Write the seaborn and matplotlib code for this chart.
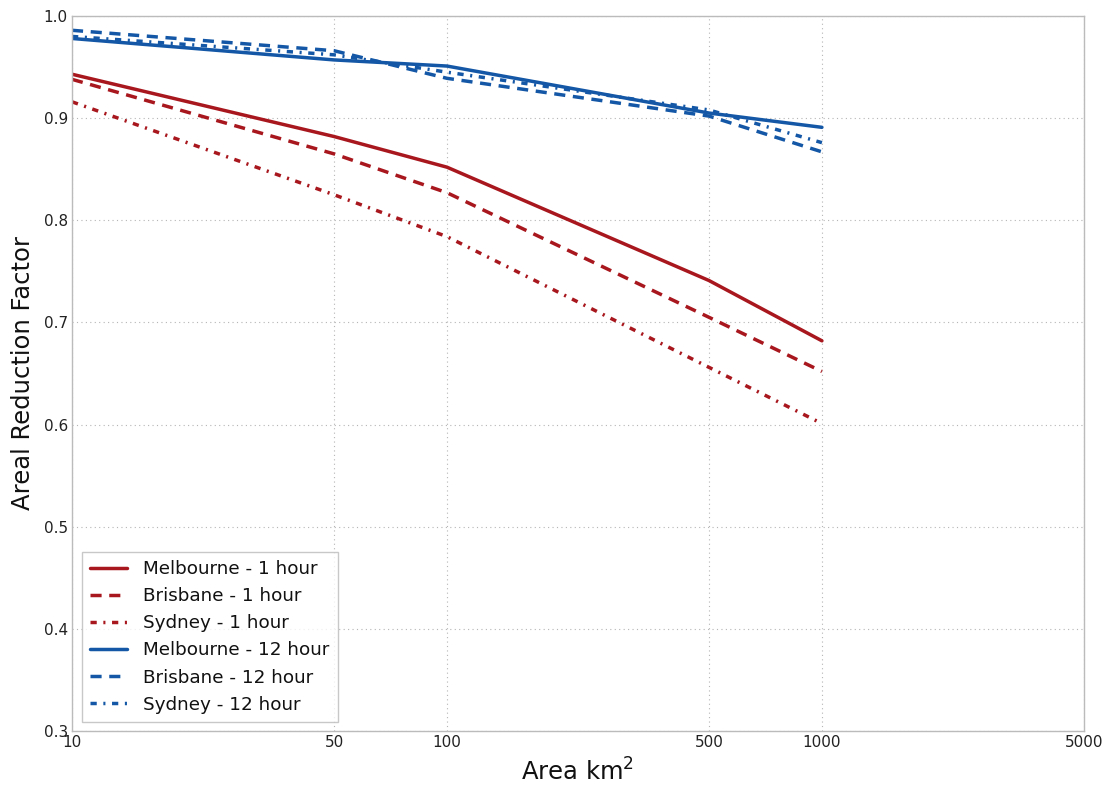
import matplotlib
matplotlib.use("Agg")
import matplotlib.pyplot as plt
import seaborn as sns
import pandas as pd
from matplotlib.ticker import FixedLocator, NullLocator, FixedFormatter

# Catchment areas (km^2)
areas = [10, 50, 100, 500, 1000]

# Areal reduction factors per city and storm duration
melbourne_1h = [0.943, 0.882, 0.852, 0.741, 0.682]
brisbane_1h = [0.938, 0.865, 0.827, 0.705, 0.652]
sydney_1h = [0.916, 0.825, 0.784, 0.656, 0.601]
melbourne_12h = [0.978, 0.957, 0.951, 0.905, 0.891]
brisbane_12h = [0.986, 0.966, 0.939, 0.902, 0.867]
sydney_12h = [0.980, 0.962, 0.945, 0.908, 0.876]

series_names = [
    "Melbourne - 1 hour", "Brisbane - 1 hour", "Sydney - 1 hour",
    "Melbourne - 12 hour", "Brisbane - 12 hour", "Sydney - 12 hour",
]
series_values = [melbourne_1h, brisbane_1h, sydney_1h,
                 melbourne_12h, brisbane_12h, sydney_12h]

x_ticks = [10, 50, 100, 500, 1000, 5000]
x_tick_labels = ["10", "50", "100", "500", "1000", "5000"]

rows = []
for name, vals in zip(series_names, series_values):
    for a, v in zip(areas, vals):
        rows.append({"area": a, "arf": v, "series": name})
df = pd.DataFrame(rows)

sns.set_theme(style="white")
plt.rcParams["font.family"] = ["DejaVu Sans"]

red = "#a8171d"
blue = "#1357a6"
palette = {n: (red if "1 hour" in n else blue) for n in series_names}
solid = ""
dashed = (3.2, 2.2)
dashdot = (1.8, 1.9, 0.6, 1.9)
dashes = {
    series_names[0]: solid, series_names[1]: dashed, series_names[2]: dashdot,
    series_names[3]: solid, series_names[4]: dashed, series_names[5]: dashdot,
}

fig = plt.figure(figsize=(11.13, 7.87), dpi=100)
ax = fig.add_axes([72 / 1113, 1 - 731 / 787, (1084 - 72) / 1113, (731 - 16) / 787])

sns.lineplot(data=df, x="area", y="arf", hue="series", style="series",
             hue_order=series_names, style_order=series_names,
             palette=palette, dashes=dashes, linewidth=2.5, ax=ax)

ax.set_xscale("log")
ax.set_xlim(10, 5000)
ax.set_ylim(0.3, 1.0)
ax.xaxis.set_major_locator(FixedLocator(x_ticks))
ax.xaxis.set_major_formatter(FixedFormatter(x_tick_labels))
ax.xaxis.set_minor_locator(NullLocator())
ax.set_yticks([0.3, 0.4, 0.5, 0.6, 0.7, 0.8, 0.9, 1.0])
ax.set_yticklabels(["0.3", "0.4", "0.5", "0.6", "0.7", "0.8", "0.9", "1.0"])
ax.tick_params(axis="both", labelsize=11, length=0, pad=3, colors="#222222")

ax.grid(True, linestyle=(0, (1, 3)), color="#b5b5b5", linewidth=0.8)
for sp in ax.spines.values():
    sp.set_color("#bbbbbb")
    sp.set_linewidth(1.0)

ax.set_xlabel("Area km$^2$", fontsize=17.5, color="#111111", labelpad=6)
ax.set_ylabel("Areal Reduction Factor", fontsize=17.5, color="#111111", labelpad=6)

leg = ax.legend(loc="lower left", bbox_to_anchor=(10 / 1012, 9 / 715),
                borderaxespad=0, fontsize=13.2,
                frameon=True, fancybox=False, handlelength=2.0,
                borderpad=0.45, labelspacing=0.5, handletextpad=0.9)
leg.get_frame().set_edgecolor("#bbbbbb")
leg.get_frame().set_linewidth(1.0)
for t in leg.get_texts():
    t.set_color("#111111")

fig.savefig("out.png", dpi=100)
